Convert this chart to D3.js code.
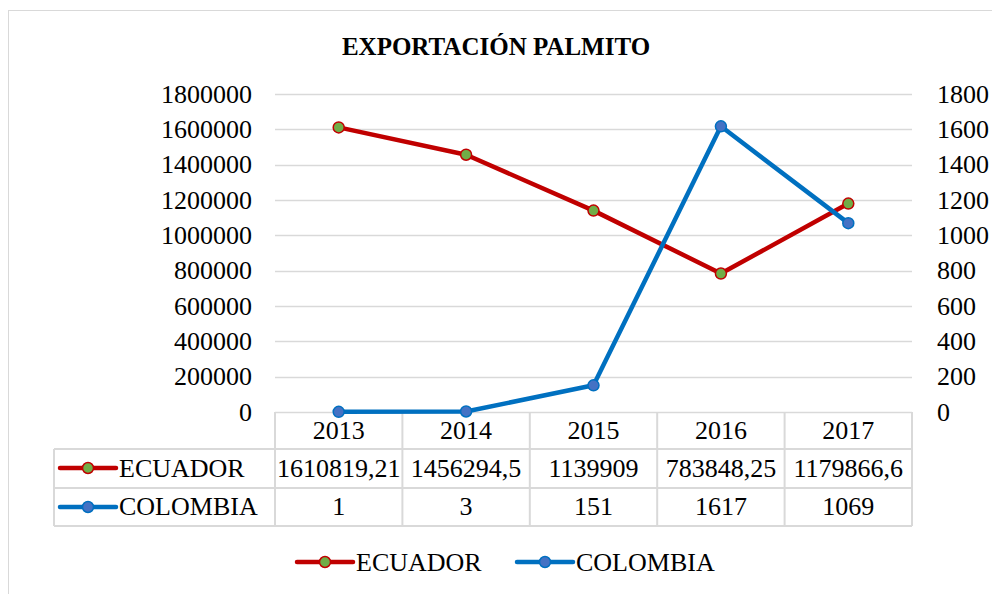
<!DOCTYPE html>
<html>
<head>
<meta charset="utf-8">
<script src="https://cdn.jsdelivr.net/npm/d3@7"></script>
<style>
  body { margin: 0; background: #fff; }
  svg { display: block; font-family: "Liberation Serif", "Times New Roman", serif; }
</style>
</head>
<body>
<svg id="chart" width="992" height="594"></svg>
<script>
// data
var years = ["2013", "2014", "2015", "2016", "2017"];
var ecuador = [1610819.21, 1456294.5, 1139909, 783848.25, 1179866.6];
var colombia = [1, 3, 151, 1617, 1069];
var leftTicks = [0, 200000, 400000, 600000, 800000, 1000000, 1200000, 1400000, 1600000, 1800000];
var rightTicks = [0, 200, 400, 600, 800, 1000, 1200, 1400, 1600, 1800];

var svg = d3.select("#chart"),
  MARGINS = { top: 94, bottom: 412, left: 275, right: 912 },
  grid = "#d9d9d9",
  red = "#c00000",
  green = "#70ad47",
  blue = "#0070c0",
  blueFill = "#4472c4",
  fs = 26;

var xScale = d3.scaleBand().domain(years).range([MARGINS.left, MARGINS.right]).padding(0),
  yLeft = d3.scaleLinear().domain([0, 1800000]).range([MARGINS.bottom, MARGINS.top]),
  yRight = d3.scaleLinear().domain([0, 1800]).range([MARGINS.bottom, MARGINS.top]),
  cx = function(y) { return xScale(y) + xScale.bandwidth() / 2; };

// outer frame (runs off the edge)
svg.append("rect")
  .attr("x", 8.5).attr("y", 10.5)
  .attr("width", 1100).attr("height", 700)
  .attr("fill", "none").attr("stroke", grid);

svg.append("text")
  .attr("x", 496).attr("y", 55)
  .attr("text-anchor", "middle")
  .style("font-weight", "bold")
  .style("font-size", "25px")
  .text("EXPORTACIÓN PALMITO");

// gridlines
svg.append("g").selectAll("line")
  .data(leftTicks)
  .enter().append("line")
  .attr("x1", MARGINS.left).attr("x2", MARGINS.right)
  .attr("y1", function(d) { return Math.round(yLeft(d)) + 0.5; })
  .attr("y2", function(d) { return Math.round(yLeft(d)) + 0.5; })
  .attr("stroke", grid).attr("stroke-width", 1.3);

// axis labels, both sides
var leftAxis = d3.axisLeft(yLeft).tickValues(leftTicks).tickSize(0).tickPadding(0).tickFormat(d3.format("d"));
var gl = svg.append("g").attr("transform", "translate(252,0)").call(leftAxis)
  .attr("font-family", null).attr("font-size", fs);
gl.select(".domain").remove();
gl.selectAll("text").attr("fill", "#000");

var rightAxis = d3.axisRight(yRight).tickValues(rightTicks).tickSize(0).tickPadding(0).tickFormat(d3.format("d"));
var gr = svg.append("g").attr("transform", "translate(937,0)").call(rightAxis)
  .attr("font-family", null).attr("font-size", fs);
gr.select(".domain").remove();
gr.selectAll("text").attr("fill", "#000");

// data table
var rowTop = [412, 449, 488, 526];
var tbl = svg.append("g").attr("stroke", grid).attr("stroke-width", 2).attr("fill", "none");
var colEdges = years.map(function(y) { return xScale(y); }).concat([MARGINS.right]);
colEdges.forEach(function(x) {
  tbl.append("line").attr("x1", x).attr("x2", x).attr("y1", rowTop[0]).attr("y2", rowTop[3]);
});
tbl.append("line").attr("x1", 54).attr("x2", 54).attr("y1", rowTop[1]).attr("y2", rowTop[3]);
[1, 2, 3].forEach(function(i) {
  tbl.append("line").attr("x1", 54).attr("x2", MARGINS.right).attr("y1", rowTop[i]).attr("y2", rowTop[i]);
});

function fmt(v) { return String(v).replace(".", ","); }

svg.append("g").selectAll("text")
  .data(years).enter().append("text")
  .attr("x", cx).attr("y", 439)
  .attr("text-anchor", "middle").style("font-size", fs + "px")
  .text(function(d) { return d; });

var rows = [
  { name: "ECUADOR", values: ecuador, line: red, fill: green, mark: red, y: 468, base: 477 },
  { name: "COLOMBIA", values: colombia, line: blue, fill: blueFill, mark: blue, y: 507, base: 515 }
];

function legendKey(g, x0, y, s) {
  g.append("line").attr("x1", x0).attr("x2", x0 + 56).attr("y1", y).attr("y2", y)
    .attr("stroke", s.line).attr("stroke-width", 4.5).attr("stroke-linecap", "round");
  g.append("circle").attr("cx", x0 + 28).attr("cy", y).attr("r", 5.5)
    .attr("fill", s.fill).attr("stroke", s.mark).attr("stroke-width", 1.5);
}

rows.forEach(function(s) {
  legendKey(svg, 60, s.y, s);
  svg.append("text").attr("x", 119).attr("y", s.base).style("font-size", fs + "px").text(s.name);
  svg.append("g").selectAll("text")
    .data(s.values).enter().append("text")
    .attr("x", function(d, i) { return cx(years[i]); })
    .attr("y", s.base)
    .attr("text-anchor", "middle").style("font-size", fs + "px")
    .text(fmt);
});

// series lines
var lineL = d3.line().x(function(d, i) { return cx(years[i]); }).y(function(d) { return yLeft(d); });
var lineR = d3.line().x(function(d, i) { return cx(years[i]); }).y(function(d) { return yRight(d); });

svg.append("path").datum(ecuador).attr("d", lineL)
  .attr("fill", "none").attr("stroke", red).attr("stroke-width", 4.5).attr("stroke-linejoin", "round");
svg.append("g").selectAll("circle").data(ecuador).enter().append("circle")
  .attr("cx", function(d, i) { return cx(years[i]); })
  .attr("cy", function(d) { return yLeft(d); })
  .attr("r", 5.5).attr("fill", green).attr("stroke", red).attr("stroke-width", 1.5);

svg.append("path").datum(colombia).attr("d", lineR)
  .attr("fill", "none").attr("stroke", blue).attr("stroke-width", 4.5).attr("stroke-linejoin", "round");
svg.append("g").selectAll("circle").data(colombia).enter().append("circle")
  .attr("cx", function(d, i) { return cx(years[i]); })
  .attr("cy", function(d) { return yRight(d); })
  .attr("r", 5.5).attr("fill", blueFill).attr("stroke", blue).attr("stroke-width", 1.5);

// bottom legend
legendKey(svg, 297, 562, rows[0]);
svg.append("text").attr("x", 356).attr("y", 571).style("font-size", fs + "px").text("ECUADOR");
legendKey(svg, 517, 562, rows[1]);
svg.append("text").attr("x", 576).attr("y", 571).style("font-size", fs + "px").text("COLOMBIA");
</script>
</body>
</html>
